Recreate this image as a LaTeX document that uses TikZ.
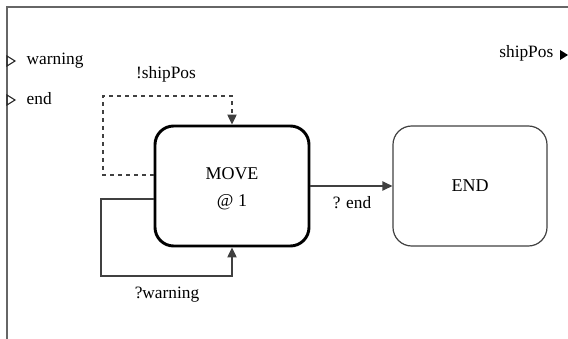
\documentclass[tikz,border=0pt]{standalone}
\usepackage{fontspec}
\setmainfont{Liberation Serif}
\usetikzlibrary{arrows.meta}

\tikzset{
  state/.style={draw, rounded corners=14pt, minimum width=115.5pt, minimum height=90pt, align=center},
  trans/.style={draw=black!75, line width=0.9pt, -{Triangle[length=7.5pt,width=7pt]}},
  lbl/.style={font=\fontsize{13}{16}\selectfont},
}

\begin{document}
\begin{tikzpicture}[x=0.75pt, y=-0.75pt, lbl]
\def\xf{7};
\def\yf{7};
\def\xm{232};
\def\xe{470};
\def\ys{186};

\useasboundingbox (0,0) rectangle (568,339);

% frame
\draw[black!60, line width=1.4pt] (\xf,339) -- (\xf,\yf) -- (568,\yf);

% ports
\draw[black!85, line width=0.8pt] (\xf,56) -- (15,61) -- (\xf,66) -- cycle;
\draw[black!85, line width=0.8pt] (\xf,95) -- (15,100) -- (\xf,105) -- cycle;
\fill[black] (560,50) -- (568,55) -- (560,60) -- cycle;
\node[anchor=west] (pw) at (22,61) {warning};
\node[anchor=west] (pe) at (22,99) {end};
\node[anchor=east] (ps) at (558,53) {shipPos};

% states
\node[state, line width=2.2pt, font=\fontsize{13.5}{20}\selectfont] (move) at (\xm,\ys) {\rule{0pt}{13pt}MOVE\\@ 1};
\node[state, draw=black!75, line width=0.9pt, font=\fontsize{13.5}{16}\selectfont] (end) at (\xe,\ys) {END};

% corners of the loops
\coordinate (da) at (103,175);
\coordinate (db) at (103,96);
\coordinate (dc) at (\xm,96);
\coordinate (sa) at (101,199);
\coordinate (sb) at (101,276);
\coordinate (sc) at (\xm,276);

\draw[trans, dashed] (move.west |- da) -- (da) -- (db) -- (dc) -- (move.north);
\draw[trans] (move.west |- sa) -- (sa) -- (sb) -- (sc) -- (move.south);
\draw[trans] (move.east) -- (end.west);

\node (l1) at (166,74) {!shipPos};
\node (l2) at (167,295) {?warning};
\node (l3) at (352,203) {? end};

\end{tikzpicture}
\end{document}
